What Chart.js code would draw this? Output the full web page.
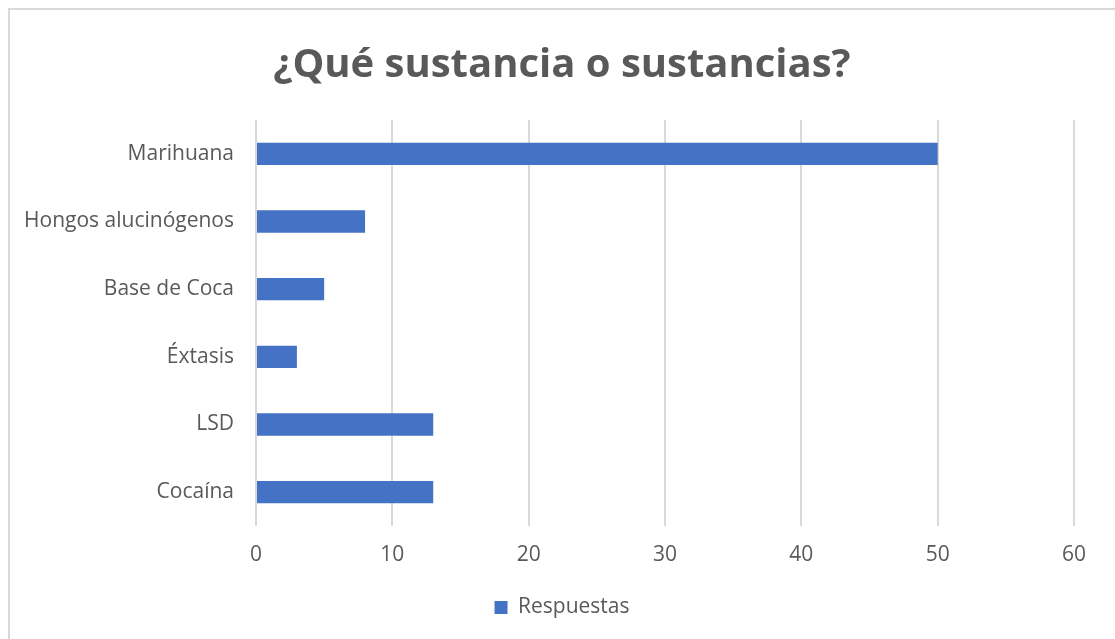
<!DOCTYPE html>
<html>
<head>
<meta charset="utf-8">
<script src="https://cdn.jsdelivr.net/npm/chart.js@4.4.1/dist/chart.umd.min.js"></script>
<style>
  html, body { margin: 0; padding: 0; background: #fff; }
  #wrap { position: relative; width: 1115px; height: 639px; overflow: hidden; }
  #frame {
    position: absolute; left: 8px; top: 8px; width: 1200px; height: 700px;
    border-left: 2px solid #d9d9d9; border-top: 2px solid #d9d9d9;
  }
  #chart { position: absolute; left: 0; top: 0; }
</style>
</head>
<body>
<div id="wrap">
  <div id="frame"></div>
  <canvas id="chart" width="1115" height="639"></canvas>
</div>
<script>
const TITLE = '¿Qué sustancia o sustancias?';
const SERIES_LABEL = 'Respuestas';
const CATEGORIES = ['Marihuana', 'Hongos alucinógenos', 'Base de Coca', 'Éxtasis', 'LSD', 'Cocaína'];
const VALUES = [50, 8, 5, 3, 13, 13];
const X_MIN = 0;
const X_MAX = 60;
const X_STEP = 10;

const TEXT_COLOR = '#595959';
const GRID_COLOR = '#d9d9d9';
const BAR_COLOR = '#4472c4';
const FONT = "'Open Sans', sans-serif";

// title and legend are centred on the full frame; the plot gap on the
// right comes from the x scale padding instead of the layout padding
const PAD_LEFT = 9;
const PLOT_LEFT = 256;
const PLOT_RIGHT_GAP = 41;

new Chart(document.getElementById('chart'), {
  type: 'bar',
  data: {
    labels: CATEGORIES,
    datasets: [{
      label: SERIES_LABEL,
      data: VALUES,
      backgroundColor: BAR_COLOR,
      borderWidth: 0,
      categoryPercentage: 1,
      barPercentage: 0.33,
    }],
  },
  options: {
    indexAxis: 'y',
    responsive: false,
    animation: false,
    layout: { padding: { left: PAD_LEFT, right: 0, top: 0, bottom: 11 } },
    plugins: {
      title: {
        display: true,
        text: TITLE,
        color: TEXT_COLOR,
        font: { family: FONT, size: 40, weight: 'bold', lineHeight: 1.2 },
        padding: { top: 42, bottom: 30 },
      },
      legend: {
        position: 'bottom',
        labels: {
          color: TEXT_COLOR,
          font: { family: FONT, size: 21, lineHeight: 1.2 },
          boxWidth: 13,
          boxHeight: 13,
          padding: 10,
        },
      },
      tooltip: { enabled: false },
    },
    scales: {
      x: {
        min: X_MIN,
        max: X_MAX,
        ticks: {
          stepSize: X_STEP,
          color: TEXT_COLOR,
          font: { family: FONT, size: 21 },
          padding: 16,
        },
        grid: { color: GRID_COLOR, lineWidth: 2, drawTicks: false },
        border: { display: false },
        afterFit: scale => {
          scale.height = 61;
          scale.paddingRight = PLOT_RIGHT_GAP;
        },
      },
      y: {
        ticks: {
          color: TEXT_COLOR,
          font: { family: FONT, size: 21 },
          padding: 22,
        },
        grid: { display: false, drawTicks: false },
        border: { display: false },
        afterFit: scale => { scale.width = PLOT_LEFT - PAD_LEFT; },
      },
    },
  },
});
</script>
</body>
</html>
